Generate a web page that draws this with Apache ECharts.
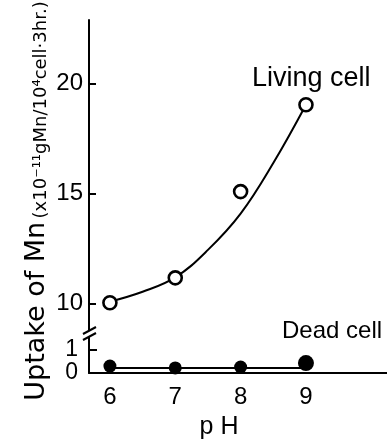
<!DOCTYPE html>
<html><head><meta charset="utf-8">
<script src="https://cdn.jsdelivr.net/npm/echarts@6/dist/echarts.min.js"></script>
<style>html,body{margin:0;padding:0;background:#fff}#c{width:387px;height:441px}</style>
</head><body><div id="c"></div>
<script>
// ---- data ----
const phTicks = [6, 7, 8, 9];
const upperTicks = [10, 15, 20];
const lowerTicks = [0, 1];
const livingPH = [6, 7, 8, 9];
const livingUptake = [10.05, 11.18, 15.1, 19.05];
const livingCurvePH = [6.0, 6.5, 7.0, 7.5, 8.0, 8.5, 9.0];
const livingCurveUptake = [10.1, 10.55, 11.2, 12.45, 14.1, 16.4, 19.05];
const deadPH = [6, 7, 8, 9];
const deadUptake = [0.3, 0.22, 0.26, 0.43];
const deadLinePH = [6, 9];
const deadLineUptake = [0.22, 0.22];

const zip = (a, b) => a.map((v, i) => [v, b[i]]);
const NUM_FONT = '"Liberation Sans Narrow", "Liberation Sans", sans-serif';
const TXT_FONT = '"Liberation Sans", sans-serif';

const chart = echarts.init(document.getElementById('c'), null, {renderer: 'canvas'});
const axLine = {show: true, lineStyle: {color: '#000', width: 2}};
const xMin = 5.68, xMax = 10.24;

chart.setOption({
  animation: false,
  backgroundColor: '#fff',
  grid: [
    {left: 89, right: 0, top: 20, height: 311.3},
    {left: 89, right: 0, top: 337, height: 36}
  ],
  xAxis: [
    {gridIndex: 0, type: 'value', min: xMin, max: xMax, show: false},
    {gridIndex: 1, type: 'value', min: xMin, max: xMax,
     axisLine: axLine, axisTick: {show: false}, splitLine: {show: false},
     axisLabel: {customValues: phTicks, margin: 12, color: '#000', fontSize: 24, fontFamily: NUM_FONT}}
  ],
  yAxis: [
    {gridIndex: 0, type: 'value', min: 8.75, max: 22.9,
     axisLine: axLine, splitLine: {show: false},
     axisTick: {show: true, inside: true, length: 7, customValues: upperTicks, lineStyle: {color: '#000', width: 2}},
     axisLabel: {customValues: upperTicks, margin: 6, color: '#000', fontSize: 24, fontFamily: NUM_FONT}},
    {gridIndex: 1, type: 'value', min: 0, max: 1.565,
     axisLine: axLine, splitLine: {show: false},
     axisTick: {show: true, inside: true, length: 8, customValues: [1], lineStyle: {color: '#000', width: 2}},
     axisLabel: {customValues: lowerTicks, margin: 11, color: '#000', fontSize: 23, fontFamily: NUM_FONT}}
  ],
  series: [
    {type: 'line', xAxisIndex: 0, yAxisIndex: 0, data: zip(livingCurvePH, livingCurveUptake),
     smooth: 0.4, showSymbol: false, lineStyle: {color: '#000', width: 2}, z: 2},
    {type: 'scatter', xAxisIndex: 0, yAxisIndex: 0, data: zip(livingPH, livingUptake),
     symbol: 'circle', symbolSize: 13,
     itemStyle: {color: '#fff', borderColor: '#000', borderWidth: 2.6, opacity: 1}, z: 3},
    {type: 'line', xAxisIndex: 1, yAxisIndex: 1, data: zip(deadLinePH, deadLineUptake),
     showSymbol: false, lineStyle: {color: '#000', width: 2}, clip: false, z: 2},
    {type: 'scatter', xAxisIndex: 1, yAxisIndex: 1, data: zip(deadPH, deadUptake),
     symbol: 'circle', symbolSize: (v, p) => p.dataIndex === 3 ? 16 : 13,
     itemStyle: {color: '#000', opacity: 1}, clip: false, z: 3}
  ],
  graphic: [
    {type: 'rect', shape: {x: 86, y: 331, width: 8, height: 6}, style: {fill: '#fff'}, z: 100},
    {type: 'line', shape: {x1: 83, y1: 334, x2: 96, y2: 327}, style: {stroke: '#000', lineWidth: 2}, z: 101},
    {type: 'line', shape: {x1: 83, y1: 340, x2: 96, y2: 333}, style: {stroke: '#000', lineWidth: 2}, z: 101},
    {type: 'text', x: 252, y: 79, z: 101,
     style: {text: 'Living cell', fontSize: 27, fontFamily: TXT_FONT, fill: '#000', align: 'left', verticalAlign: 'middle'}},
    {type: 'text', x: 282, y: 331, z: 101,
     style: {text: 'Dead cell', fontSize: 24, fontFamily: TXT_FONT, fill: '#000', align: 'left', verticalAlign: 'middle'}},
    {type: 'text', x: 219, y: 427, z: 101,
     style: {text: 'p H', fontSize: 25, fontFamily: TXT_FONT, fill: '#000', align: 'center', verticalAlign: 'middle'}},
    {type: 'text', x: 35, y: 201, rotation: Math.PI / 2, z: 101,
     style: {text: '{a|Uptake of Mn} {b|(x10⁻¹¹gMn/10⁴cell·3hr.)}', align: 'center', verticalAlign: 'middle', fill: '#000',
       rich: {
         a: {fontSize: 27, fontFamily: '"DejaVu Sans", sans-serif', fill: '#000', verticalAlign: 'bottom', lineHeight: 30},
         b: {fontSize: 18, fontFamily: '"DejaVu Sans", sans-serif', fill: '#000', verticalAlign: 'bottom', lineHeight: 30}
       }}}
  ]
});
</script></body></html>
